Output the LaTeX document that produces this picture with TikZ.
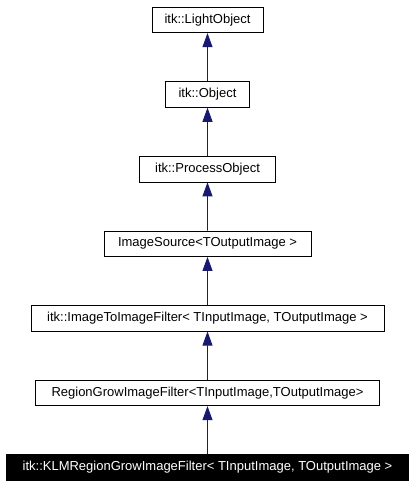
\documentclass[tikz,border=0pt]{standalone}
\usepackage{fontspec}
\setmainfont{Liberation Sans}
\usetikzlibrary{arrows.meta}
\definecolor{edgeblue}{RGB}{25,25,112}

\tikzset{
klass/.style={draw=black,fill=white,line width=0.8pt,minimum height=25.5pt,inner sep=0pt,
  font=\fontsize{13}{15}\selectfont},
current/.style={fill=black,text=white}}

\begin{document}
\begin{tikzpicture}
  [x=1pt,y=1pt,
   level distance=74.6pt,
   every node/.style={klass},
   edge from parent/.style={draw=edgeblue,line width=0.8pt,{Triangle[length=14pt,width=10pt]}-}]
   \useasboundingbox (0,0) rectangle (413,-485);
   \node (light) at (207.5,-20) [minimum width=111pt] {itk::LightObject}
   child {node (obj) [minimum width=84pt] {itk::Object}
       child {node (proc) [minimum width=136pt] {itk::ProcessObject}
           child {node (src) [minimum width=207pt] {ImageSource<TOutputImage >}
               child {node (i2i) [minimum width=353pt] {itk::ImageToImageFilter< TInputImage, TOutputImage >}
                   child {node (rgrow) [minimum width=344pt] {RegionGrowImageFilter<TInputImage,TOutputImage>}
                       child {node (klm) [minimum width=402pt,current] {itk::KLMRegionGrowImageFilter< TInputImage, TOutputImage >}}
                   }
               }
           }
       }
   };
\end{tikzpicture}
\end{document}
